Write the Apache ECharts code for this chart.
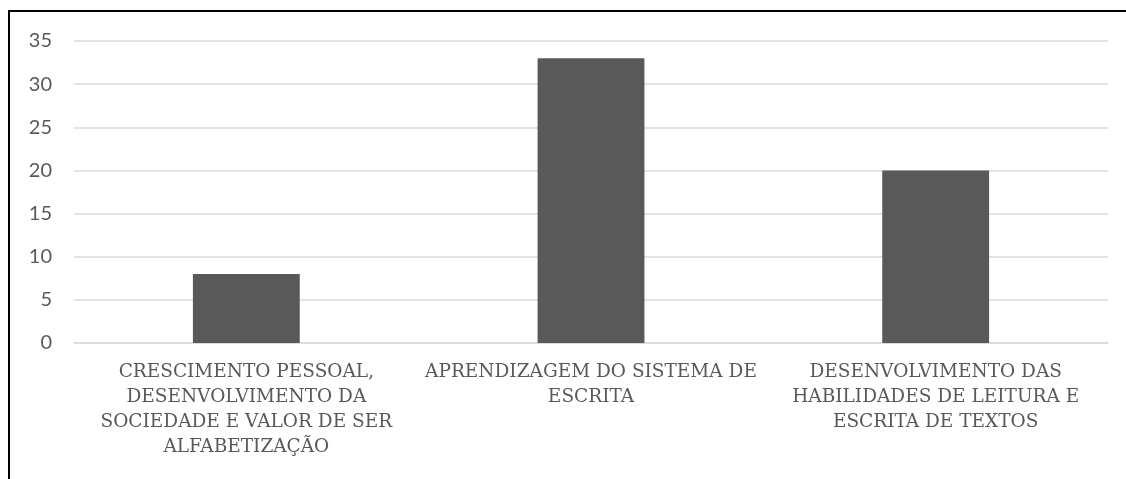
<!DOCTYPE html>
<html>
<head>
<meta charset="utf-8">
<script src="https://cdn.jsdelivr.net/npm/echarts@6/dist/echarts.min.js"></script>
<style>
html,body{margin:0;padding:0;background:#fff;}
#c{width:1126px;height:479px;}
</style>
</head>
<body>
<div id="c"></div>
<script>
var categories = [
  "CRESCIMENTO PESSOAL,\nDESENVOLVIMENTO DA\nSOCIEDADE E VALOR DE SER\nALFABETIZAÇÃO",
  "APRENDIZAGEM DO SISTEMA DE\nESCRITA",
  "DESENVOLVIMENTO DAS\nHABILIDADES DE LEITURA E\nESCRITA DE TEXTOS"
];
var values = [8, 33, 20];
var yTicks = [0, 5, 10, 15, 20, 25, 30, 35];

var chart = echarts.init(document.getElementById('c'), null, {renderer: 'canvas'});
chart.setOption({
  animation: false,
  backgroundColor: '#ffffff',
  grid: {left: 74, right: 18, top: 41, bottom: 136, containLabel: false},
  graphic: [{
    type: 'polyline',
    shape: {points: [[9, 479], [9, 11], [1126, 11]]},
    style: {stroke: '#000000', lineWidth: 2, fill: null}
  }],
  xAxis: {
    type: 'category',
    data: categories,
    axisLine: {show: true, lineStyle: {color: '#d9d9d9', width: 1.5}},
    axisTick: {show: false},
    axisLabel: {
      interval: 0,
      color: '#595959',
      fontFamily: 'DejaVu Serif',
      fontSize: 18.5,
      lineHeight: 25,
      margin: 17,
      align: 'center'
    }
  },
  yAxis: {
    type: 'value',
    min: yTicks[0],
    max: yTicks[yTicks.length - 1],
    interval: 5,
    axisLine: {show: false},
    axisTick: {show: false},
    splitLine: {lineStyle: {color: '#d9d9d9', width: 1.5}},
    axisLabel: {
      color: '#595959',
      fontFamily: 'Lato',
      fontSize: 20,
      margin: 22
    }
  },
  series: [{
    type: 'bar',
    data: values,
    barWidth: '31%',
    itemStyle: {color: '#595959'}
  }]
});
</script>
</body>
</html>
